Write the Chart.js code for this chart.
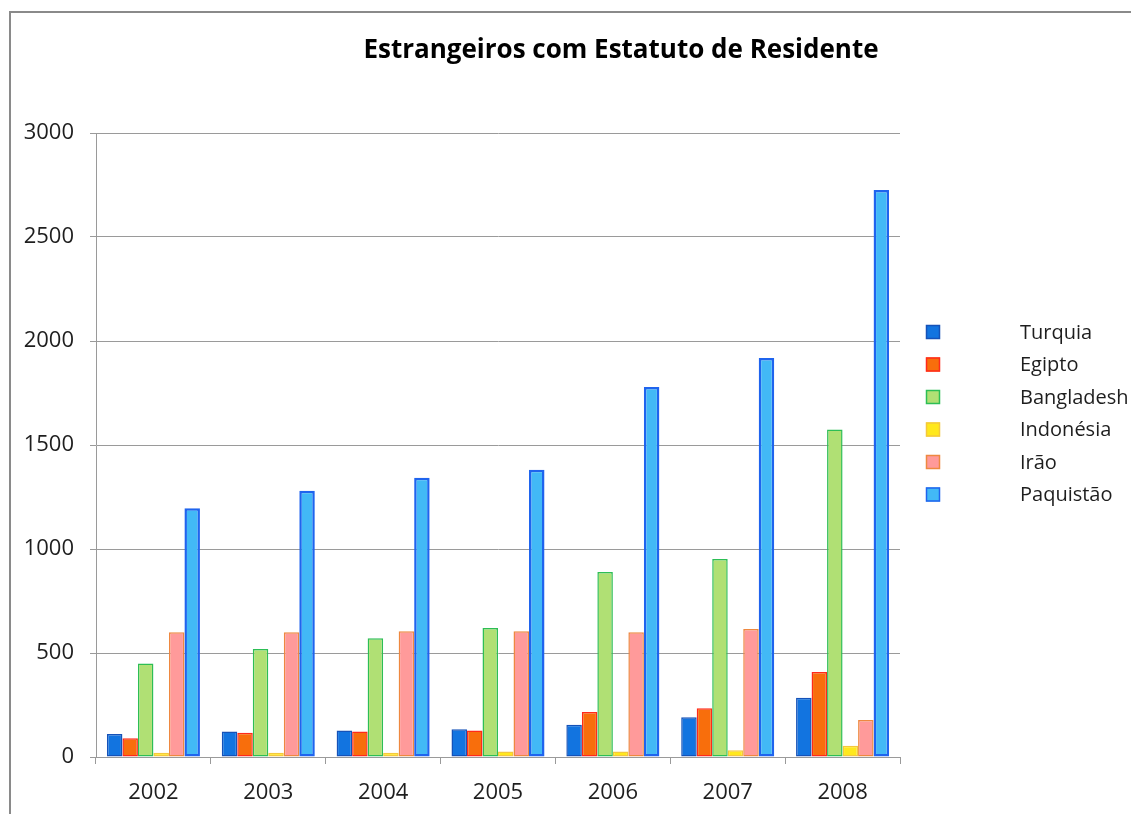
<!DOCTYPE html>
<html>
<head>
<meta charset="utf-8">
<script src="https://cdn.jsdelivr.net/npm/chart.js@4/dist/chart.umd.min.js"></script>
<style>
  html, body { margin: 0; padding: 0; background: #ffffff; }
  #wrap { position: relative; width: 1131px; height: 814px; overflow: hidden; }
  #frame { position: absolute; left: 9px; top: 11px; width: 1200px; height: 900px;
           border-left: 2px solid #8a8a8a; border-top: 2px solid #8a8a8a; }
  canvas { position: absolute; left: 0; top: 0; }
</style>
</head>
<body>
<div id="wrap">
  <div id="frame"></div>
  <canvas id="c" width="1131" height="814"></canvas>
</div>
<script>
const chartTitle = "Estrangeiros com Estatuto de Residente";
const years = ["2002", "2003", "2004", "2005", "2006", "2007", "2008"];
const seriesNames = ["Turquia", "Egipto", "Bangladesh", "Indonésia", "Irão", "Paquistão"];
const turquia    = [110, 122, 128, 133, 155, 191, 285];
const egipto     = [90, 117, 123, 127, 216, 234, 409];
const bangladesh = [449, 519, 571, 620, 889, 952, 1574];
const indonesia  = [21, 21, 21, 27, 27, 32, 54];
const irao       = [600, 600, 604, 604, 600, 615, 178];
const paquistao  = [1196, 1280, 1343, 1381, 1779, 1918, 2726];
const yTicks = [0, 500, 1000, 1500, 2000, 2500, 3000];

const fills   = ["#1274E0", "#F86E0C", "#B0E074", "#FFE81C", "#FF9A9A", "#42B9F6"];
const borders = ["#1552B8", "#FF2A1A", "#2DBE55", "#F4C83C", "#EE8840", "#1F64EE"];
const bws     = [1.5, 1.5, 1.5, 1.5, 1.5, 2.5];
const values  = [turquia, egipto, bangladesh, indonesia, irao, paquistao];

const FONT = "'Open Sans', 'DejaVu Sans', sans-serif";

const titlePlugin = {
  id: 'customTitle',
  afterDraw(chart) {
    const ctx = chart.ctx;
    ctx.save();
    ctx.font = "bold 26px " + FONT;
    ctx.fillStyle = "#000000";
    ctx.textAlign = "center";
    ctx.textBaseline = "middle";
    ctx.fillText(chartTitle, 621, 51);
    ctx.restore();
  }
};

const legendPlugin = {
  id: 'customLegend',
  afterDraw(chart) {
    const ctx = chart.ctx;
    ctx.save();
    ctx.font = "20px " + FONT;
    ctx.textBaseline = "middle";
    ctx.textAlign = "left";
    const ys = [332, 364.5, 397, 429.5, 462, 494.5];
    chart.data.datasets.forEach((ds, i) => {
      const y = ys[i];
      ctx.fillStyle = ds.backgroundColor;
      ctx.fillRect(926, y - 7, 14, 14);
      ctx.strokeStyle = ds.borderColor;
      ctx.lineWidth = 1.5;
      ctx.strokeRect(926.5, y - 6.5, 13, 13);
      ctx.fillStyle = "#1e1e1e";
      ctx.fillText(ds.label, 1020, y + 1);
    });
    ctx.restore();
  }
};

new Chart(document.getElementById('c'), {
  type: 'bar',
  data: {
    labels: years,
    datasets: seriesNames.map((name, i) => ({
      label: name,
      data: values[i],
      backgroundColor: fills[i],
      borderColor: borders[i],
      borderWidth: bws[i],
      borderSkipped: false,
      barPercentage: 1.0,
      categoryPercentage: 0.81
    }))
  },
  options: {
    responsive: false,
    animation: false,
    devicePixelRatio: 1,
    layout: { padding: { left: 0, right: 231, top: 133, bottom: 0 } },
    plugins: {
      legend: { display: false },
      title: { display: false },
      tooltip: { enabled: false }
    },
    scales: {
      x: {
        afterFit(scale) { scale.height = 57; },
        grid: { display: true, drawOnChartArea: false, drawTicks: true, tickLength: 7,
                color: "#9a9a9a", offset: true },
        border: { display: true, color: "#9a9a9a", width: 1 },
        ticks: { font: { family: FONT, size: 22 }, color: "#1e1e1e", padding: 16 }
      },
      y: {
        min: 0, max: 3000,
        afterFit(scale) { scale.width = 96; },
        afterBuildTicks(scale) { scale.ticks = yTicks.map(v => ({ value: v })); },
        grid: { color: "#9a9a9a", lineWidth: 1, drawTicks: true, tickLength: 6 },
        border: { display: true, color: "#9a9a9a", width: 1 },
        ticks: { font: { family: FONT, size: 22 }, color: "#1e1e1e", padding: 16,
                 callback: (v) => String(v) }
      }
    }
  },
  plugins: [titlePlugin, legendPlugin]
});
</script>
</body>
</html>
